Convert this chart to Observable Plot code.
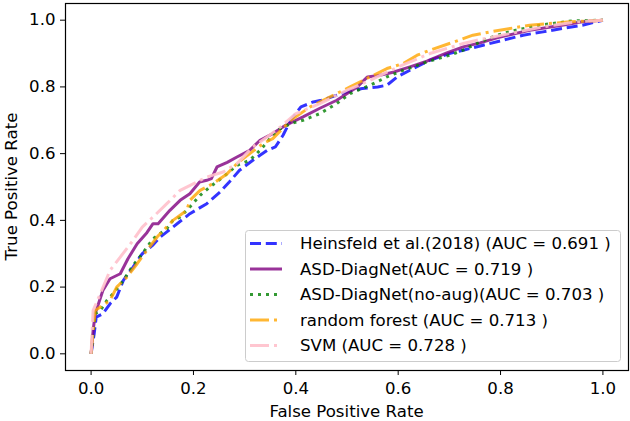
<!DOCTYPE html>
<html><head><meta charset="utf-8">
<script src="https://cdn.jsdelivr.net/npm/d3@7"></script>
<script src="https://cdn.jsdelivr.net/npm/@observablehq/plot@0.6"></script>
<style>body{margin:0;background:#fff}svg{display:block}</style>
</head><body><div id="chart"></div>
<script>
// ---- data ----
const seriesNames = [
  "Heinsfeld et al.(2018) (AUC = 0.691 )",
  "ASD-DiagNet(AUC = 0.719 )",
  "ASD-DiagNet(no-aug)(AUC = 0.703 )",
  "random forest (AUC = 0.713 )",
  "SVM (AUC = 0.728 )"
];
const tickValues = [0, 0.2, 0.4, 0.6, 0.8, 1.0];

const heinsfeldFpr = [0,0.006,0.01,0.023,0.037,0.05,0.063,0.082,0.10,0.12,0.135,0.16,0.193,0.226,0.252,0.27,0.29,0.316,0.33,0.344,0.36,0.375,0.39,0.41,0.434,0.45,0.49,0.51,0.53,0.56,0.578,0.598,0.623,0.662,0.70,0.727,0.766,0.805,0.844,0.883,0.92,0.96,1.0];
const heinsfeldTpr = [0,0.06,0.11,0.12,0.15,0.17,0.22,0.26,0.30,0.325,0.35,0.38,0.42,0.45,0.485,0.515,0.55,0.58,0.595,0.61,0.62,0.655,0.70,0.74,0.755,0.76,0.78,0.79,0.795,0.80,0.805,0.83,0.85,0.88,0.90,0.91,0.925,0.94,0.955,0.965,0.975,0.985,1.0];

const diagnetFpr = [0,0.004,0.008,0.023,0.037,0.057,0.072,0.09,0.109,0.121,0.131,0.154,0.174,0.193,0.212,0.226,0.235,0.246,0.266,0.285,0.31,0.33,0.355,0.38,0.414,0.447,0.48,0.52,0.54,0.564,0.59,0.623,0.656,0.695,0.727,0.76,0.793,0.857,0.92,0.96,1.0];
const diagnetTpr = [0,0.07,0.12,0.19,0.225,0.24,0.285,0.33,0.363,0.39,0.39,0.43,0.46,0.48,0.515,0.52,0.525,0.56,0.574,0.59,0.61,0.64,0.66,0.685,0.71,0.736,0.76,0.80,0.83,0.835,0.844,0.86,0.877,0.902,0.92,0.932,0.947,0.97,0.985,0.995,1.0];

const noaugFpr = [0,0.004,0.008,0.018,0.031,0.043,0.063,0.082,0.10,0.121,0.148,0.16,0.174,0.193,0.213,0.232,0.258,0.285,0.31,0.33,0.344,0.355,0.37,0.39,0.414,0.447,0.48,0.506,0.545,0.578,0.61,0.63,0.656,0.70,0.727,0.76,0.793,0.83,0.877,0.94,1.0];
const noaugTpr = [0,0.06,0.12,0.13,0.16,0.18,0.22,0.265,0.30,0.345,0.375,0.40,0.41,0.44,0.475,0.50,0.53,0.565,0.58,0.61,0.635,0.655,0.675,0.69,0.70,0.72,0.75,0.78,0.805,0.83,0.85,0.86,0.875,0.895,0.91,0.935,0.955,0.97,0.985,0.998,1.0];

const forestFpr = [0,0.004,0.008,0.018,0.037,0.05,0.07,0.09,0.109,0.129,0.16,0.187,0.193,0.213,0.238,0.266,0.285,0.31,0.336,0.355,0.39,0.428,0.467,0.506,0.545,0.578,0.61,0.637,0.662,0.70,0.746,0.78,0.857,0.935,1.0];
const forestTpr = [0,0.07,0.13,0.14,0.16,0.20,0.23,0.27,0.31,0.35,0.40,0.43,0.46,0.49,0.51,0.54,0.57,0.60,0.63,0.645,0.70,0.74,0.77,0.80,0.83,0.855,0.87,0.895,0.91,0.93,0.955,0.965,0.985,0.995,1.0];

const svmFpr = [0,0.004,0.018,0.037,0.057,0.082,0.10,0.121,0.148,0.174,0.207,0.226,0.258,0.285,0.316,0.344,0.37,0.40,0.447,0.50,0.545,0.60,0.662,0.727,0.754,0.818,0.883,0.95,1.0];
const svmTpr = [0,0.13,0.18,0.25,0.29,0.34,0.38,0.41,0.45,0.49,0.515,0.53,0.545,0.57,0.62,0.65,0.68,0.72,0.75,0.79,0.82,0.86,0.90,0.93,0.94,0.96,0.98,0.995,1.0];

const seriesFpr = [heinsfeldFpr, diagnetFpr, noaugFpr, forestFpr, svmFpr];
const seriesTpr = [heinsfeldTpr, diagnetTpr, noaugTpr, forestTpr, svmTpr];

// ---- styles ----
const styles = [
  {stroke: "blue",   opacity: 0.8, dash: "11,4.8"},
  {stroke: "purple", opacity: 0.8, dash: null},
  {stroke: "green",  opacity: 0.8, dash: "3,5"},
  {stroke: "orange", opacity: 0.8, dash: "19,5,3,5"},
  {stroke: "pink",   opacity: 0.9, dash: "19,5,3,5"}
];
const fs = 16.6;

const data = seriesNames.flatMap((name, i) =>
  seriesFpr[i].map((f, j) => ({series: name, fpr: f, tpr: seriesTpr[i][j]})));

const lineMarks = seriesNames.map((name, i) =>
  Plot.line(data.filter(d => d.series === name), {
    x: "fpr", y: "tpr",
    stroke: styles[i].stroke, strokeOpacity: styles[i].opacity,
    strokeWidth: 3, strokeDasharray: styles[i].dash || undefined,
    strokeLinecap: "butt", strokeLinejoin: "round"
  }));

const chart = Plot.plot({
  width: 630, height: 421,
  marginLeft: 65, marginRight: 2, marginTop: 3, marginBottom: 51,
  style: {fontFamily: "'DejaVu Sans', sans-serif", fontSize: fs + "px", color: "black", background: "white"},
  x: {domain: [-0.05, 1.05]},
  y: {domain: [-0.05, 1.05]},
  marks: [
    ...lineMarks,
    Plot.frame({stroke: "black", strokeWidth: 1.2}),
    Plot.axisX({ticks: tickValues, tickFormat: d3.format(".1f"), tickSize: 5, tickPadding: 7, label: null, fontSize: fs}),
    Plot.axisY({ticks: tickValues, tickFormat: d3.format(".1f"), tickSize: 5, tickPadding: 5, label: null, fontSize: fs})
  ]
});
document.getElementById("chart").appendChild(chart);

// ---- axis titles & legend (layout only) ----
const svg = d3.select(chart);
const frameLeft = 65, frameRight = 628, frameTop = 3, frameBottom = 370;
svg.append("text").attr("x", (frameLeft + frameRight) / 2).attr("y", 417)
  .attr("text-anchor", "middle").attr("font-size", fs).attr("fill", "black")
  .text("False Positive Rate");
svg.append("text").attr("transform", `translate(17,${(frameTop + frameBottom) / 2}) rotate(-90)`)
  .attr("text-anchor", "middle").attr("font-size", fs).attr("fill", "black")
  .text("True Positive Rate");

const lg = svg.append("g").attr("transform", `translate(${frameRight - 383},${frameBottom - 140})`);
lg.append("rect").attr("x", 0.5).attr("y", 0.5).attr("width", 375).attr("height", 131)
  .attr("rx", 3).attr("fill", "white").attr("fill-opacity", 0.8)
  .attr("stroke", "#cccccc").attr("stroke-width", 1);
seriesNames.forEach((name, i) => {
  const cy = 13.5 + i * 25.5;
  const ln = lg.append("line").attr("x1", 5).attr("x2", 37).attr("y1", cy).attr("y2", cy)
    .attr("stroke", styles[i].stroke).attr("stroke-opacity", styles[i].opacity)
    .attr("stroke-width", 3).attr("stroke-linecap", "butt");
  if (styles[i].dash) ln.attr("stroke-dasharray", styles[i].dash);
  lg.append("text").attr("x", 55).attr("y", cy).attr("dy", "0.36em")
    .attr("text-anchor", "start")
    .attr("font-size", fs).attr("fill", "black").text(name);
});
</script>
</body></html>
